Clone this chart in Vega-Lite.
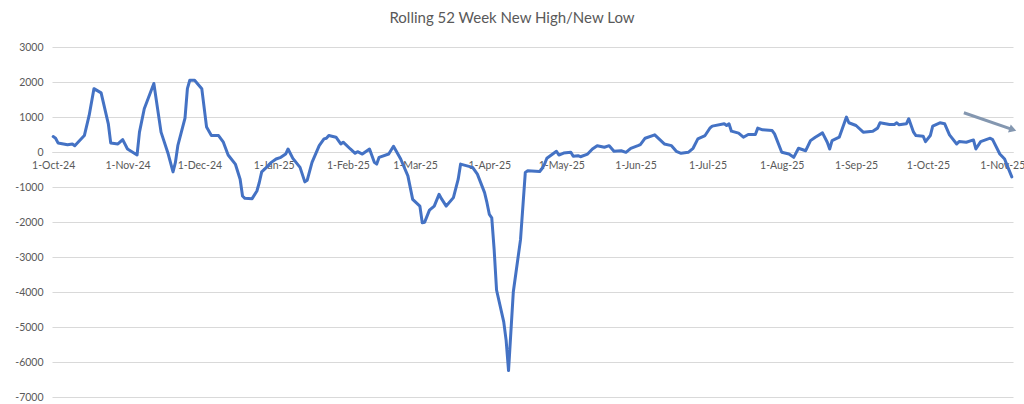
{
  "$schema": "https://vega.github.io/schema/vega-lite/v6.json",
  "width": 961,
  "height": 350,
  "autosize": {"type": "none"},
  "padding": {"left": 52, "top": 47, "right": 11, "bottom": 7},
  "background": "white",
  "title": {"text": "Rolling 52 Week New High/New Low", "font": "Lato", "fontSize": 15, "fontWeight": "normal", "color": "#595959", "anchor": "middle", "dx": -20.5, "offset": 16},
  "config": {"view": {"stroke": null}, "font": "Lato"},
  "layer": [
    {
      "data": {"values": [
        {"date": "2024-10-01", "value": 440},
        {"date": "2024-10-02", "value": 394},
        {"date": "2024-10-03", "value": 260},
        {"date": "2024-10-07", "value": 210},
        {"date": "2024-10-09", "value": 230},
        {"date": "2024-10-10", "value": 180},
        {"date": "2024-10-14", "value": 470},
        {"date": "2024-10-16", "value": 1045},
        {"date": "2024-10-18", "value": 1810},
        {"date": "2024-10-21", "value": 1690},
        {"date": "2024-10-24", "value": 806},
        {"date": "2024-10-25", "value": 260},
        {"date": "2024-10-28", "value": 230},
        {"date": "2024-10-30", "value": 354},
        {"date": "2024-11-01", "value": 86},
        {"date": "2024-11-05", "value": -86},
        {"date": "2024-11-06", "value": 567},
        {"date": "2024-11-08", "value": 1237},
        {"date": "2024-11-12", "value": 1957},
        {"date": "2024-11-15", "value": 567},
        {"date": "2024-11-18", "value": -58},
        {"date": "2024-11-20", "value": -567},
        {"date": "2024-11-21", "value": -296},
        {"date": "2024-11-22", "value": 181},
        {"date": "2024-11-25", "value": 970},
        {"date": "2024-11-26", "value": 1810},
        {"date": "2024-11-27", "value": 2050},
        {"date": "2024-11-29", "value": 2050},
        {"date": "2024-12-02", "value": 1810},
        {"date": "2024-12-04", "value": 711},
        {"date": "2024-12-06", "value": 470},
        {"date": "2024-12-09", "value": 470},
        {"date": "2024-12-11", "value": 280},
        {"date": "2024-12-13", "value": -86},
        {"date": "2024-12-16", "value": -345},
        {"date": "2024-12-18", "value": -777},
        {"date": "2024-12-19", "value": -1257},
        {"date": "2024-12-20", "value": -1324},
        {"date": "2024-12-23", "value": -1333},
        {"date": "2024-12-25", "value": -1114},
        {"date": "2024-12-26", "value": -872},
        {"date": "2024-12-27", "value": -567},
        {"date": "2024-12-29", "value": -440},
        {"date": "2024-12-31", "value": -296},
        {"date": "2025-01-02", "value": -200},
        {"date": "2025-01-04", "value": -153},
        {"date": "2025-01-06", "value": -58},
        {"date": "2025-01-07", "value": 86},
        {"date": "2025-01-09", "value": -182},
        {"date": "2025-01-12", "value": -440},
        {"date": "2025-01-14", "value": -854},
        {"date": "2025-01-15", "value": -806},
        {"date": "2025-01-17", "value": -296},
        {"date": "2025-01-20", "value": 181},
        {"date": "2025-01-22", "value": 374},
        {"date": "2025-01-23", "value": 394},
        {"date": "2025-01-24", "value": 470},
        {"date": "2025-01-27", "value": 423},
        {"date": "2025-01-29", "value": 230},
        {"date": "2025-01-30", "value": 280},
        {"date": "2025-02-02", "value": 86},
        {"date": "2025-02-04", "value": -37},
        {"date": "2025-02-05", "value": 9},
        {"date": "2025-02-07", "value": -58},
        {"date": "2025-02-10", "value": 86},
        {"date": "2025-02-12", "value": -296},
        {"date": "2025-02-13", "value": -345},
        {"date": "2025-02-14", "value": -153},
        {"date": "2025-02-18", "value": -58},
        {"date": "2025-02-20", "value": 163},
        {"date": "2025-02-23", "value": -200},
        {"date": "2025-02-26", "value": -682},
        {"date": "2025-02-28", "value": -1353},
        {"date": "2025-03-03", "value": -1545},
        {"date": "2025-03-04", "value": -2023},
        {"date": "2025-03-05", "value": -2005},
        {"date": "2025-03-07", "value": -1660},
        {"date": "2025-03-09", "value": -1545},
        {"date": "2025-03-11", "value": -1209},
        {"date": "2025-03-12", "value": -1333},
        {"date": "2025-03-14", "value": -1545},
        {"date": "2025-03-17", "value": -1304},
        {"date": "2025-03-19", "value": -777},
        {"date": "2025-03-20", "value": -345},
        {"date": "2025-03-25", "value": -440},
        {"date": "2025-03-27", "value": -633},
        {"date": "2025-03-30", "value": -1160},
        {"date": "2025-03-31", "value": -1448},
        {"date": "2025-04-01", "value": -1784},
        {"date": "2025-04-02", "value": -1880},
        {"date": "2025-04-03", "value": -2792},
        {"date": "2025-04-04", "value": -3943},
        {"date": "2025-04-07", "value": -4855},
        {"date": "2025-04-08", "value": -5382},
        {"date": "2025-04-09", "value": -6245},
        {"date": "2025-04-11", "value": -3991},
        {"date": "2025-04-14", "value": -2504},
        {"date": "2025-04-16", "value": -584},
        {"date": "2025-04-17", "value": -538},
        {"date": "2025-04-22", "value": -556},
        {"date": "2025-04-23", "value": -470},
        {"date": "2025-04-24", "value": -350},
        {"date": "2025-04-25", "value": -180},
        {"date": "2025-04-29", "value": 20},
        {"date": "2025-04-30", "value": -86},
        {"date": "2025-05-02", "value": -29},
        {"date": "2025-05-05", "value": -9},
        {"date": "2025-05-06", "value": -124},
        {"date": "2025-05-08", "value": -106},
        {"date": "2025-05-09", "value": -135},
        {"date": "2025-05-12", "value": -58},
        {"date": "2025-05-14", "value": 86},
        {"date": "2025-05-16", "value": 181},
        {"date": "2025-05-19", "value": 135},
        {"date": "2025-05-21", "value": 181},
        {"date": "2025-05-23", "value": 20},
        {"date": "2025-05-26", "value": 37},
        {"date": "2025-05-28", "value": -9},
        {"date": "2025-05-30", "value": 106},
        {"date": "2025-06-02", "value": 181},
        {"date": "2025-06-03", "value": 210},
        {"date": "2025-06-05", "value": 394},
        {"date": "2025-06-09", "value": 489},
        {"date": "2025-06-10", "value": 423},
        {"date": "2025-06-13", "value": 230},
        {"date": "2025-06-16", "value": 181},
        {"date": "2025-06-18", "value": 20},
        {"date": "2025-06-20", "value": -37},
        {"date": "2025-06-23", "value": -9},
        {"date": "2025-06-25", "value": 106},
        {"date": "2025-06-27", "value": 374},
        {"date": "2025-06-30", "value": 470},
        {"date": "2025-07-02", "value": 680},
        {"date": "2025-07-03", "value": 740},
        {"date": "2025-07-08", "value": 806},
        {"date": "2025-07-09", "value": 757},
        {"date": "2025-07-10", "value": 806},
        {"date": "2025-07-11", "value": 595},
        {"date": "2025-07-14", "value": 538},
        {"date": "2025-07-16", "value": 423},
        {"date": "2025-07-18", "value": 500},
        {"date": "2025-07-21", "value": 500},
        {"date": "2025-07-22", "value": 682},
        {"date": "2025-07-24", "value": 633},
        {"date": "2025-07-28", "value": 614},
        {"date": "2025-07-29", "value": 518},
        {"date": "2025-08-01", "value": -9},
        {"date": "2025-08-04", "value": -58},
        {"date": "2025-08-06", "value": -153},
        {"date": "2025-08-08", "value": 106},
        {"date": "2025-08-11", "value": 37},
        {"date": "2025-08-13", "value": 325},
        {"date": "2025-08-15", "value": 423},
        {"date": "2025-08-18", "value": 547},
        {"date": "2025-08-20", "value": 280},
        {"date": "2025-08-21", "value": 86},
        {"date": "2025-08-22", "value": 325},
        {"date": "2025-08-25", "value": 423},
        {"date": "2025-08-26", "value": 614},
        {"date": "2025-08-28", "value": 998},
        {"date": "2025-08-29", "value": 835},
        {"date": "2025-09-01", "value": 757},
        {"date": "2025-09-04", "value": 567},
        {"date": "2025-09-08", "value": 595},
        {"date": "2025-09-10", "value": 682},
        {"date": "2025-09-11", "value": 835},
        {"date": "2025-09-15", "value": 786},
        {"date": "2025-09-17", "value": 786},
        {"date": "2025-09-18", "value": 835},
        {"date": "2025-09-19", "value": 777},
        {"date": "2025-09-22", "value": 806},
        {"date": "2025-09-23", "value": 950},
        {"date": "2025-09-25", "value": 567},
        {"date": "2025-09-26", "value": 470},
        {"date": "2025-09-29", "value": 451},
        {"date": "2025-09-30", "value": 297},
        {"date": "2025-10-02", "value": 470},
        {"date": "2025-10-03", "value": 740},
        {"date": "2025-10-06", "value": 835},
        {"date": "2025-10-08", "value": 806},
        {"date": "2025-10-10", "value": 489},
        {"date": "2025-10-13", "value": 230},
        {"date": "2025-10-14", "value": 297},
        {"date": "2025-10-17", "value": 280},
        {"date": "2025-10-20", "value": 345},
        {"date": "2025-10-21", "value": 86},
        {"date": "2025-10-23", "value": 297},
        {"date": "2025-10-27", "value": 394},
        {"date": "2025-10-28", "value": 354},
        {"date": "2025-10-31", "value": -58},
        {"date": "2025-11-02", "value": -200},
        {"date": "2025-11-03", "value": -374},
        {"date": "2025-11-05", "value": -710}
      ]},
      "mark": {"type": "line", "color": "#4472C4", "strokeWidth": 3, "strokeJoin": "round", "strokeCap": "round"},
      "encoding": {
        "x": {
          "field": "date", "type": "temporal",
          "scale": {"type": "utc", "domain": [
            {"year": 2024, "month": "sep", "date": 30, "hours": 12, "utc": true},
            {"year": 2025, "month": "nov", "date": 5, "hours": 12, "utc": true}
          ]},
          "axis": {
            "title": null, "format": "%-d-%b-%y", "tickCount": 20,
            "values": [
              {"year": 2024, "month": "oct", "date": 1, "utc": true},
              {"year": 2024, "month": "nov", "date": 1, "utc": true},
              {"year": 2024, "month": "dec", "date": 1, "utc": true},
              {"year": 2025, "month": "jan", "date": 1, "utc": true},
              {"year": 2025, "month": "feb", "date": 1, "utc": true},
              {"year": 2025, "month": "mar", "date": 1, "utc": true},
              {"year": 2025, "month": "apr", "date": 1, "utc": true},
              {"year": 2025, "month": "may", "date": 1, "utc": true},
              {"year": 2025, "month": "jun", "date": 1, "utc": true},
              {"year": 2025, "month": "jul", "date": 1, "utc": true},
              {"year": 2025, "month": "aug", "date": 1, "utc": true},
              {"year": 2025, "month": "sep", "date": 1, "utc": true},
              {"year": 2025, "month": "oct", "date": 1, "utc": true},
              {"year": 2025, "month": "nov", "date": 1, "utc": true}
            ],
            "offset": -245, "domainColor": "#d9d9d9", "domainWidth": 1, "ticks": false,
            "labelPadding": 8, "labelFont": "Lato", "labelFontSize": 10.5, "labelColor": "#595959",
            "grid": false, "labelFlush": false, "labelOverlap": false
          }
        },
        "y": {
          "field": "value", "type": "quantitative",
          "scale": {"domain": [-7000, 3000], "nice": false, "zero": false},
          "axis": {
            "title": null, "tickCount": 12, "values": [-7000, -6000, -5000, -4000, -3000, -2000, -1000, 0, 1000, 2000, 3000],
            "grid": true, "gridColor": "#d9d9d9", "gridWidth": 1, "domain": false, "ticks": false,
            "labelPadding": 9, "labelFont": "Lato", "labelFontSize": 10.5, "labelColor": "#595959",
            "labelOverlap": false, "labelExpr": "toString(datum.value)"
          }
        }
      }
    },
    {
      "data": {"values": [{"date": "2025-10-16", "value": 1122, "date2": "2025-11-05T10:00:00Z", "value2": 640}]},
      "mark": {"type": "rule", "color": "#8497B0", "strokeWidth": 3},
      "encoding": {
        "x": {"field": "date", "type": "temporal"},
        "y": {"field": "value", "type": "quantitative"},
        "x2": {"field": "date2"},
        "y2": {"field": "value2"}
      }
    },
    {
      "data": {"values": [{"date": "2025-11-05T10:00:00Z", "value": 640}]},
      "mark": {"type": "point", "shape": "triangle-right", "filled": true, "color": "#8497B0", "size": 70, "angle": 19, "opacity": 1},
      "encoding": {
        "x": {"field": "date", "type": "temporal"},
        "y": {"field": "value", "type": "quantitative"}
      }
    }
  ]
}
